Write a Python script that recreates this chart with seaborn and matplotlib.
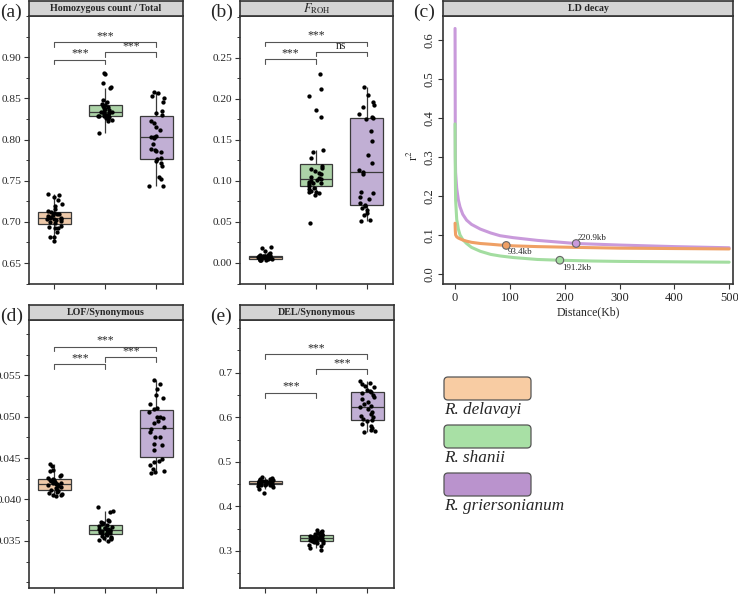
import numpy as np
import pandas as pd
import matplotlib
matplotlib.use('Agg')
import matplotlib.pyplot as plt
import seaborn as sns
from matplotlib.ticker import MultipleLocator
from matplotlib.patches import FancyBboxPatch

sns.set_style('ticks')
plt.rcParams['font.family'] = ['Liberation Serif', 'DejaVu Serif']
plt.rcParams['mathtext.fontset'] = 'stix'

species = ['R. delavayi', 'R. shanii', 'R. griersonianum']
box_colors = ['#F9C89E', '#A6DB9F', '#C1A9DA']
line_colors = ['#EFA065', '#A3DDA0', '#C99ADB']
key_colors = ['#F8CCA3', '#A8E0A5', '#BA93CD']

## (a) Homozygous count / Total
a_del = [0.734, 0.733, 0.730, 0.727, 0.722, 0.719, 0.716, 0.713, 0.712, 0.711, 0.710, 0.709,
         0.708, 0.707, 0.706, 0.705, 0.705, 0.704, 0.703, 0.703, 0.702, 0.701, 0.700, 0.698,
         0.695, 0.694, 0.693, 0.692, 0.688, 0.682, 0.681, 0.677]
a_sha = [0.881, 0.880, 0.869, 0.864, 0.862, 0.848, 0.845, 0.843, 0.842, 0.841, 0.839, 0.838,
         0.837, 0.836, 0.835, 0.834, 0.833, 0.832, 0.832, 0.831, 0.830, 0.830, 0.829, 0.828,
         0.828, 0.827, 0.826, 0.825, 0.824, 0.823, 0.808]
a_gri = [0.858, 0.856, 0.853, 0.851, 0.846, 0.835, 0.832, 0.830, 0.822, 0.820, 0.815, 0.812,
         0.804, 0.803, 0.803, 0.802, 0.795, 0.788, 0.787, 0.786, 0.785, 0.778, 0.776, 0.774,
         0.772, 0.768, 0.755, 0.752, 0.744, 0.743]
a_ticks = [0.65, 0.70, 0.75, 0.80, 0.85, 0.90]

## (b) F_ROH
b_del = [0.020, 0.018, 0.015, 0.012, 0.011, 0.010, 0.010, 0.009, 0.009, 0.009, 0.008, 0.008,
         0.008, 0.008, 0.007, 0.007, 0.007, 0.007, 0.006, 0.006, 0.006, 0.006, 0.005, 0.005,
         0.005, 0.005, 0.004, 0.004, 0.004, 0.004]
b_sha = [0.230, 0.212, 0.204, 0.187, 0.178, 0.138, 0.135, 0.128, 0.118, 0.116, 0.114, 0.112,
         0.110, 0.108, 0.105, 0.103, 0.102, 0.101, 0.100, 0.099, 0.098, 0.097, 0.096, 0.094,
         0.092, 0.090, 0.088, 0.087, 0.086, 0.085, 0.083, 0.049]
b_gri = [0.214, 0.205, 0.196, 0.192, 0.190, 0.181, 0.178, 0.177, 0.175, 0.161, 0.149, 0.131,
         0.122, 0.113, 0.111, 0.109, 0.086, 0.085, 0.080, 0.078, 0.073, 0.071, 0.069, 0.067,
         0.064, 0.061, 0.058, 0.053, 0.051]
b_ticks = [0.00, 0.05, 0.10, 0.15, 0.20, 0.25]

## (d) LOF/Synonymous
d_del = [0.0443, 0.0440, 0.0436, 0.0434, 0.0430, 0.0428, 0.0426, 0.0425, 0.0424, 0.0423,
         0.0422, 0.0421, 0.0420, 0.0420, 0.0419, 0.0419, 0.0418, 0.0417, 0.0416, 0.0415,
         0.0414, 0.0412, 0.0411, 0.0410, 0.0409, 0.0408, 0.0407, 0.0406, 0.0405, 0.0404]
d_sha = [0.0391, 0.0386, 0.0385, 0.0375, 0.0374, 0.0373, 0.0371, 0.0370, 0.0369, 0.0368,
         0.0367, 0.0366, 0.0365, 0.0364, 0.0364, 0.0363, 0.0363, 0.0362, 0.0362, 0.0361,
         0.0360, 0.0360, 0.0359, 0.0358, 0.0357, 0.0356, 0.0355, 0.0354, 0.0353, 0.0352,
         0.0351, 0.0350]
d_gri = [0.0544, 0.0540, 0.0534, 0.0526, 0.0523, 0.0516, 0.0511, 0.0509, 0.0506, 0.0500,
         0.0500, 0.0498, 0.0495, 0.0492, 0.0488, 0.0485, 0.0482, 0.0475, 0.0475, 0.0467,
         0.0466, 0.0460, 0.0449, 0.0447, 0.0445, 0.0442, 0.0437, 0.0435, 0.0433, 0.0432]
d_ticks = [0.035, 0.040, 0.045, 0.050, 0.055]

## (e) DEL/Synonymous
e_del = [0.466, 0.464, 0.462, 0.461, 0.460, 0.459, 0.458, 0.457, 0.457, 0.456, 0.455, 0.455,
         0.454, 0.454, 0.453, 0.453, 0.452, 0.452, 0.451, 0.451, 0.450, 0.450, 0.449, 0.449,
         0.448, 0.447, 0.445, 0.443, 0.440, 0.431]
e_sha = [0.347, 0.344, 0.342, 0.340, 0.338, 0.337, 0.336, 0.335, 0.334, 0.333, 0.332, 0.331,
         0.330, 0.330, 0.329, 0.329, 0.328, 0.327, 0.326, 0.325, 0.324, 0.323, 0.322, 0.321,
         0.319, 0.317, 0.314, 0.311, 0.307, 0.303]
e_gri = [0.681, 0.677, 0.674, 0.670, 0.667, 0.662, 0.658, 0.656, 0.655, 0.650, 0.645, 0.640,
         0.635, 0.630, 0.625, 0.622, 0.618, 0.612, 0.608, 0.603, 0.600, 0.596, 0.594, 0.592,
         0.585, 0.580, 0.575, 0.572, 0.568, 0.566]
e_ticks = [0.3, 0.4, 0.5, 0.6, 0.7]

## (c) LD decay (distance in kb, r^2)
ld_gri_x = [0, 0.5, 1, 3, 6, 9, 14, 21, 30, 46, 65, 82, 106, 150, 220, 300, 400, 500]
ld_gri_y = [0.63, 0.30, 0.26, 0.22, 0.19, 0.172, 0.153, 0.138, 0.127, 0.115, 0.105, 0.098,
            0.093, 0.086, 0.078, 0.074, 0.070, 0.067]
ld_sha_x = [0, 0.5, 1, 3, 6, 9, 14, 21, 30, 46, 65, 82, 106, 150, 191, 250, 300, 400, 500]
ld_sha_y = [0.385, 0.25, 0.19, 0.14, 0.115, 0.100, 0.088, 0.078, 0.068, 0.058, 0.050, 0.046,
            0.042, 0.037, 0.035, 0.033, 0.032, 0.031, 0.030]
ld_del_x = [0, 0.5, 1, 3, 6, 9, 14, 21, 30, 46, 65, 82, 106, 150, 220, 300, 400, 500]
ld_del_y = [0.13, 0.11, 0.10, 0.095, 0.092, 0.090, 0.087, 0.084, 0.081, 0.078, 0.076, 0.074,
            0.072, 0.070, 0.068, 0.066, 0.065, 0.064]
half_x = [93.4, 191.2, 220.9]
half_y = [0.073, 0.035, 0.078]
half_lab = ['93.4kb', '191.2kb', '220.9kb']

W, H = 738, 594
fig = plt.figure(figsize=(W / 100, H / 100), dpi=100)


def frac(l, t, r, b):
    return [l / W, 1 - b / H, (r - l) / W, (b - t) / H]


def style_frame(ax):
    for s in ax.spines.values():
        s.set_color('#333333')
        s.set_linewidth(1.2)


def add_panel(l, t, r, b, title, letter, letter_x, title_size=7.2):
    ax = fig.add_axes(frac(l, t + 15, r, b))
    hd = fig.add_axes(frac(l, t, r, t + 15))
    hd.set_facecolor('#D4D4D4')
    hd.set_xticks([])
    hd.set_yticks([])
    style_frame(hd)
    hd.text(0.5, 0.5, title, ha='center', va='center', fontweight='bold', fontsize=title_size)
    fig.text(letter_x / W, 1 - (t + 11) / H, letter, fontsize=14, va='center')
    style_frame(ax)
    ax.tick_params(axis='both', which='major', direction='out', length=3.5, width=0.8,
                   color='#333333', labelsize=8.2, pad=2)
    ax.tick_params(axis='y', which='minor', direction='out', length=2, width=0.7, color='#333333')
    return ax


def box_panel(ax, vals, ylim, ticks, minor, brackets):
    df = pd.DataFrame({'species': np.repeat(species, [len(v) for v in vals]),
                       'value': np.concatenate(vals)})
    sns.boxplot(data=df, x='species', y='value', hue='species', order=species,
                hue_order=species, palette=box_colors, width=0.65, showfliers=False,
                showcaps=False, linewidth=0.9, linecolor='#3a3a3a', legend=False, ax=ax)
    sns.stripplot(data=df, x='species', y='value', order=species, color='black',
                  size=3.1, jitter=0.15, ax=ax)
    ax.set_xlim(-0.5, 2.52)
    ax.set_ylim(*ylim)
    ax.set_yticks(ticks)
    ax.yaxis.set_minor_locator(MultipleLocator(minor))
    ax.set_xticks([0, 1, 2])
    ax.set_xticklabels([])
    ax.set_xlabel('')
    ax.set_ylabel('')
    drop = 0.018 * (ylim[1] - ylim[0])
    for x1, x2, y, txt in brackets:
        ax.plot([x1, x1, x2, x2], [y - drop, y, y, y - drop], color='#555555', lw=0.8)
        ax.text((x1 + x2) / 2, y, txt, ha='center', va='bottom', fontsize=8.5)


np.random.seed(7)

ax_a = add_panel(29, 1, 183, 284, 'Homozygous count / Total', '(a)', 0)
box_panel(ax_a, [a_del, a_sha, a_gri], (0.6245, 0.95), a_ticks, 0.025,
          [(0, 1, 0.897, '***'), (0, 2, 0.9186, '***'), (1, 2, 0.9064, '***')])

ax_b = add_panel(240, 1, 393, 284, r'$F_{\mathrm{ROH}}$', '(b)', 210, title_size=9)
box_panel(ax_b, [b_del, b_sha, b_gri], (-0.0256, 0.301), b_ticks, 0.025,
          [(0, 1, 0.2484, '***'), (0, 2, 0.2699, '***'), (1, 2, 0.2577, 'ns')])

ax_d = add_panel(29, 305, 183, 588, 'LOF/Synonymous', '(d)', 0)
box_panel(ax_d, [d_del, d_sha, d_gri], (0.0293, 0.0617), d_ticks, 0.0025,
          [(0, 1, 0.05639, '***'), (0, 2, 0.05848, '***'), (1, 2, 0.05719, '***')])

ax_e = add_panel(240, 305, 394, 588, 'DEL/Synonymous', '(e)', 210)
box_panel(ax_e, [e_del, e_sha, e_gri], (0.217, 0.818), e_ticks, 0.05,
          [(0, 1, 0.655, '***'), (0, 2, 0.742, '***'), (1, 2, 0.707, '***')])

## (c) LD decay
ax_c = add_panel(443, 1, 733, 284, 'LD decay', '(c)', 413)
ld = pd.concat([
    pd.DataFrame({'dist': ld_gri_x, 'r2': ld_gri_y, 'species': species[2]}),
    pd.DataFrame({'dist': ld_sha_x, 'r2': ld_sha_y, 'species': species[1]}),
    pd.DataFrame({'dist': ld_del_x, 'r2': ld_del_y, 'species': species[0]}),
])
pal = dict(zip(species, line_colors))
sns.lineplot(data=ld, x='dist', y='r2', hue='species',
             hue_order=[species[2], species[1], species[0]], palette=pal,
             estimator=None, sort=True, lw=2.2, legend=False, ax=ax_c)
sns.scatterplot(x=half_x, y=half_y, hue=species, palette=pal, s=30, edgecolor='#666666',
                linewidth=0.8, zorder=5, legend=False, ax=ax_c)
offsets = [(2, -0.016), (4, -0.019), (3, 0.015)]
for x, y, lab, (dx, dy) in zip(half_x, half_y, half_lab, offsets):
    ax_c.text(x + dx, y + dy, lab, fontsize=6.5, ha='left', va='center')
ax_c.set_xlim(-22, 507)
ax_c.set_ylim(-0.026, 0.662)
ax_c.xaxis.set_major_locator(MultipleLocator(100))
ax_c.yaxis.set_major_locator(MultipleLocator(0.1))
ax_c.tick_params(axis='both', labelsize=9)
plt.setp(ax_c.get_yticklabels(), rotation=90, va='center')
ax_c.set_xlabel('Distance(Kb)', fontsize=8.5)
ax_c.set_ylabel(r'r$^2$', fontsize=9)
ax_c.xaxis.set_label_coords(0.5, -0.085)
ax_c.yaxis.set_label_coords(-0.075, 0.48)

## legend keys
lg = fig.add_axes([0, 0, 1, 1])
lg.set_xlim(0, W)
lg.set_ylim(H, 0)
lg.axis('off')
key_tops = [377, 425, 473]
for top, col, name in zip(key_tops, key_colors, species):
    lg.add_patch(FancyBboxPatch((444, top), 87, 23, boxstyle='round,pad=0,rounding_size=4',
                                facecolor=col, edgecolor='#555555', linewidth=0.9))
    lg.text(444, top + 33, name, fontsize=12.3, fontstyle='italic', ha='left', va='center')

fig.savefig('out.png', dpi=100)
